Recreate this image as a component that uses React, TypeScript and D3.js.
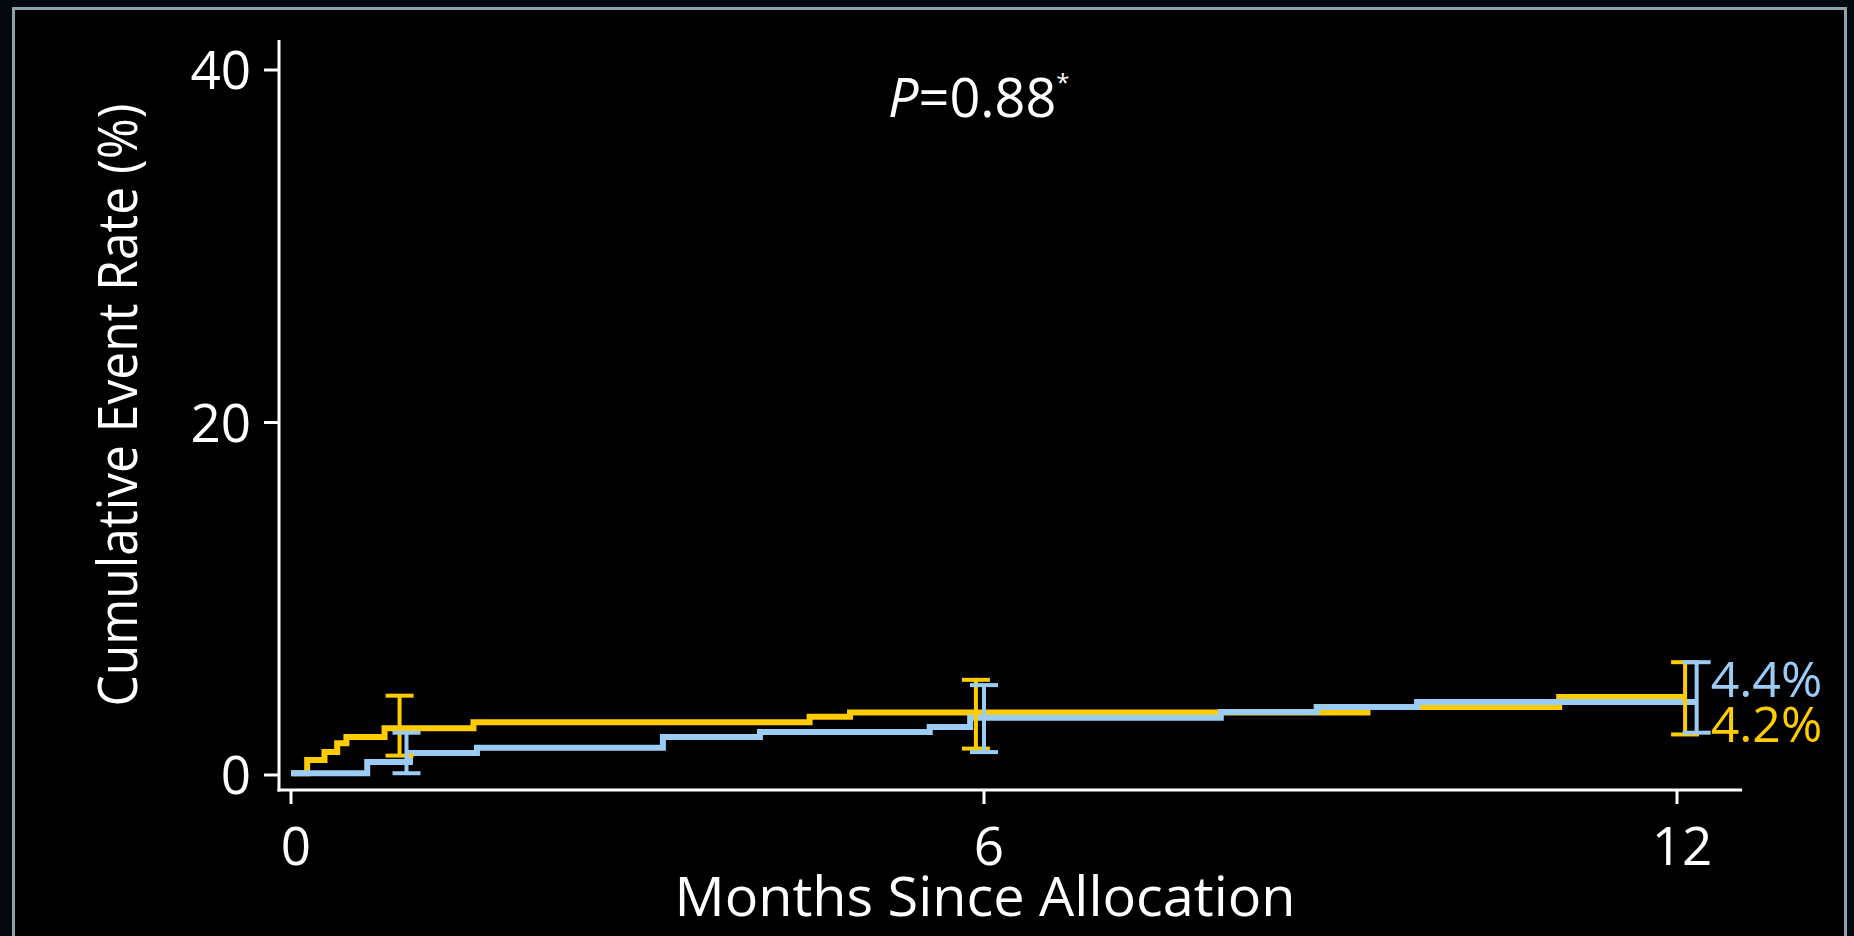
import React from "react";
import * as d3 from "d3";

// ---- data ----
const yTicks = [0, 20, 40];
const xTicks = [0, 6, 12];

const yellowTimes = [0, 0.14, 0.29, 0.4, 0.48, 0.81, 1.58, 4.49, 4.84, 9.32, 10.98, 12.07];
const yellowRates = [0.1, 0.85, 1.3, 1.8, 2.15, 2.65, 3.0, 3.3, 3.55, 3.86, 4.42, 4.42];

const blueTimes = [0, 0.66, 1.03, 1.61, 3.22, 4.06, 5.53, 5.88, 8.05, 8.88, 9.75, 12.17];
const blueRates = [0.1, 0.74, 1.25, 1.55, 2.16, 2.44, 2.72, 3.25, 3.57, 3.86, 4.14, 4.14];

const yellowBarTimes = [0.94, 5.93, 12.07];
const yellowBarLow = [1.1, 1.5, 2.3];
const yellowBarHigh = [4.5, 5.4, 6.4];

const blueBarTimes = [1.0, 6.0, 12.17];
const blueBarLow = [0.1, 1.3, 2.4];
const blueBarHigh = [2.4, 5.1, 6.4];

const blueEndLabel = "4.4%";
const yellowEndLabel = "4.2%";
const xTitle = "Months Since Allocation";
const yTitle = "Cumulative Event Rate (%)";

// ---- styles ----
const W = 1854;
const H = 936;
const YELLOW = "#FFCC00";
const BLUE = "#9ACCF5";
const FONT = "'Open Sans', 'DejaVu Sans', sans-serif";

export default function App() {
  const x = d3.scaleLinear().domain([0, 12]).range([291, 1677]);
  const y = d3.scaleLinear().domain([0, 40]).range([775, 70]);

  const axisLeft = 279;
  const axisBottom = 790;
  const axisTop = 40;
  const axisRight = 1742;

  const line = d3
    .line<[number, number]>()
    .x((d) => x(d[0]))
    .y((d) => y(d[1]))
    .curve(d3.curveStepAfter);

  const yellowPts: [number, number][] = yellowTimes.map((t, i) => [t, yellowRates[i]]);
  const bluePts: [number, number][] = blueTimes.map((t, i) => [t, blueRates[i]]);

  const capW = 28;

  const errorBars = (times: number[], lo: number[], hi: number[], color: string, key: string) =>
    times.map((t, i) => (
      <g key={key + i} stroke={color} strokeWidth={4} fill="none">
        <line x1={x(t)} x2={x(t)} y1={y(lo[i])} y2={y(hi[i])} />
        <line x1={x(t) - capW / 2} x2={x(t) + capW / 2} y1={y(lo[i])} y2={y(lo[i])} />
        <line x1={x(t) - capW / 2} x2={x(t) + capW / 2} y1={y(hi[i])} y2={y(hi[i])} />
      </g>
    ));

  const lastBlue = blueRates[blueRates.length - 1];

  return (
    <svg
      width={W}
      height={H}
      style={{ position: "absolute", left: 0, top: 0, display: "block" }}
      fontFamily={FONT}
    >
      <rect x={0} y={0} width={W} height={H} fill="#04080f" />
      <rect x={13.5} y={8.5} width={1832} height={960} fill="#000" stroke="#8DA2AC" strokeWidth={3} />

      {/* axes */}
      <line x1={axisLeft} x2={axisLeft} y1={axisTop} y2={axisBottom + 1.5} stroke="#fff" strokeWidth={3} />
      <line x1={axisLeft - 1.5} x2={axisRight} y1={axisBottom} y2={axisBottom} stroke="#fff" strokeWidth={3} />

      {yTicks.map((t) => (
        <g key={"yt" + t}>
          <line x1={axisLeft - 15} x2={axisLeft} y1={y(t)} y2={y(t)} stroke="#fff" strokeWidth={3} />
          <text
            x={251}
            y={y(t) + 19}
            fill="#fff"
            fontSize={53}
            textAnchor="end"
          >
            {t}
          </text>
        </g>
      ))}

      {xTicks.map((t) => (
        <g key={"xt" + t}>
          <line x1={x(t)} x2={x(t)} y1={axisBottom} y2={axisBottom + 14} stroke="#fff" strokeWidth={3} />
          <text x={x(t) + 5} y={865} fill="#fff" fontSize={53} textAnchor="middle">
            {t}
          </text>
        </g>
      ))}

      <text x={985} y={916} fill="#fff" fontSize={54} textAnchor="middle" textLength={621} lengthAdjust="spacingAndGlyphs">
        {xTitle}
      </text>
      <text
        transform="translate(137,405) rotate(-90)"
        fill="#fff"
        fontSize={54}
        textAnchor="middle"
        textLength={603}
        lengthAdjust="spacingAndGlyphs"
      >
        {yTitle}
      </text>

      <text x={888} y={117} fill="#fff" fontSize={54}>
        <tspan fontStyle="italic">P</tspan>
        <tspan>=0.88</tspan>
        <tspan fontSize={24} dy={-26}>*</tspan>
      </text>

      {/* curves */}
      <path d={line(yellowPts) ?? ""} fill="none" stroke={YELLOW} strokeWidth={6} />
      <path d={line(bluePts) ?? ""} fill="none" stroke={BLUE} strokeWidth={6} />

      {errorBars(yellowBarTimes, yellowBarLow, yellowBarHigh, YELLOW, "ye")}
      {errorBars(blueBarTimes, blueBarLow, blueBarHigh, BLUE, "be")}

      <text x={x(blueBarTimes[2]) + 14} y={y(lastBlue) - 5} fill={BLUE} fontSize={50}>
        {blueEndLabel}
      </text>
      <text x={x(blueBarTimes[2]) + 14} y={y(lastBlue) + 40} fill={YELLOW} fontSize={50}>
        {yellowEndLabel}
      </text>
    </svg>
  );
}
